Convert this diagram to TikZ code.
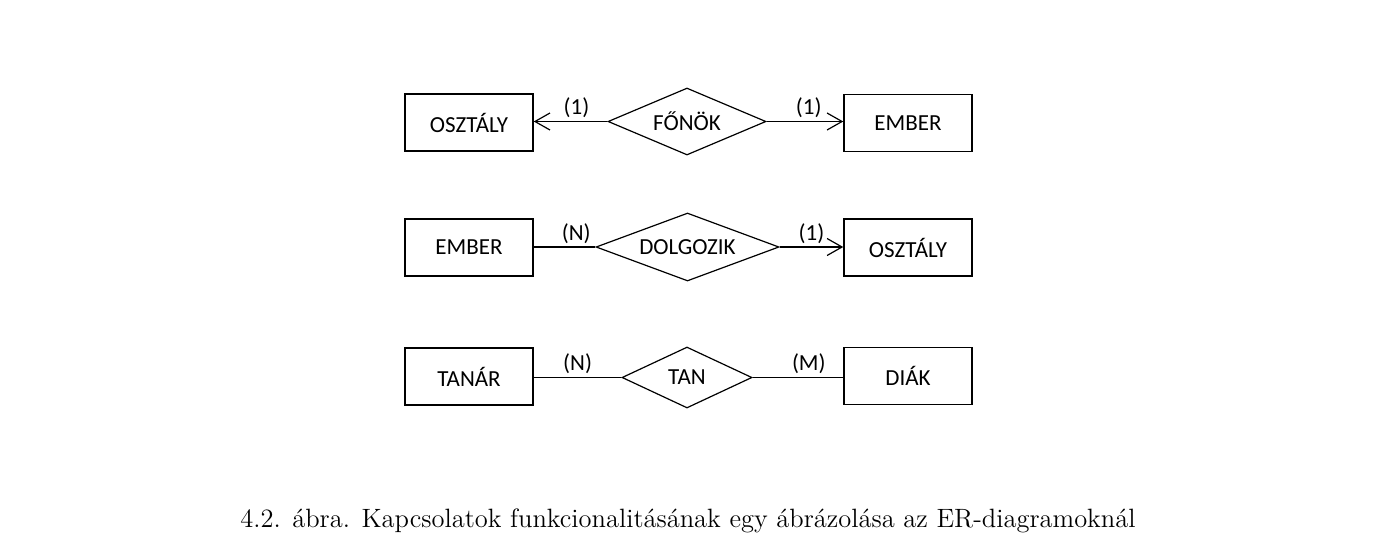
\documentclass[tikz,border=0pt]{standalone}
\usepackage{fontspec}
\newfontfamily\erfont{Carlito}
\usetikzlibrary{shapes.geometric,arrows.meta}
\begin{document}
\begin{tikzpicture}[x=0.5pt,y=-0.5pt,
  erf/.style={font=\erfont\fontsize{11.5}{13}\selectfont},
  entity/.style={draw,line width=0.75pt,minimum width=64pt,minimum height=28.5pt,inner sep=0pt,erf},
  relation/.style={draw,diamond,line width=0.6pt,inner sep=0pt,erf},
  conn/.style={line width=0.6pt},
  arr/.style={conn,-{Straight Barb[length=7.5pt,width=8.5pt,line width=0.6pt]}},
  card/.style={above,inner sep=1.5pt,erf}]
\useasboundingbox (0,0) rectangle (1374,552);
% row 1
\node[entity] (o1) at (469,122.5) {OSZTÁLY};
\node[relation,aspect=2.36,minimum width=79pt,minimum height=33.5pt] (r1) at (687,121.5) {FŐNÖK};
\node[entity] (e1) at (908,123) {EMBER};
\draw[arr] (r1.west) -- node[card,pos=0.42]{(1)} (o1.east|-r1.west);
\draw[arr] (r1.east) -- node[card,pos=0.55]{(1)} (e1.west|-r1.east);
% row 2
\node[entity] (e2) at (469,247.5) {EMBER};
\node[relation,aspect=2.69,minimum width=91.5pt,minimum height=34pt] (r2) at (687.5,247) {DOLGOZIK};
\node[entity] (o2) at (908,247.5) {OSZTÁLY};
\draw[conn] (e2.east|-r2.west) -- node[card,pos=0.69]{(N)} (r2.west);
\draw[arr] (r2.east) -- node[card,pos=0.5]{(1)} (o2.west|-r2.east);
% row 3
\node[entity] (t3) at (469,376.5) {TANÁR};
\node[relation,aspect=2.13,minimum width=65pt,minimum height=30.5pt] (r3) at (687,377.5) {TAN};
\node[entity] (d3) at (908,376) {DIÁK};
\draw[conn] (t3.east|-r3.west) -- node[card,pos=0.5]{(N)} (r3.west);
\draw[conn] (r3.east) -- node[card,pos=0.62]{(M)} (d3.west|-r3.east);
% caption
\node[font=\fontsize{13.25}{15}\selectfont] (cap) at (688,521) {4.2. ábra. Kapcsolatok funkcionalitásának egy ábrázolása az ER-diagramoknál};
\end{tikzpicture}
\end{document}
